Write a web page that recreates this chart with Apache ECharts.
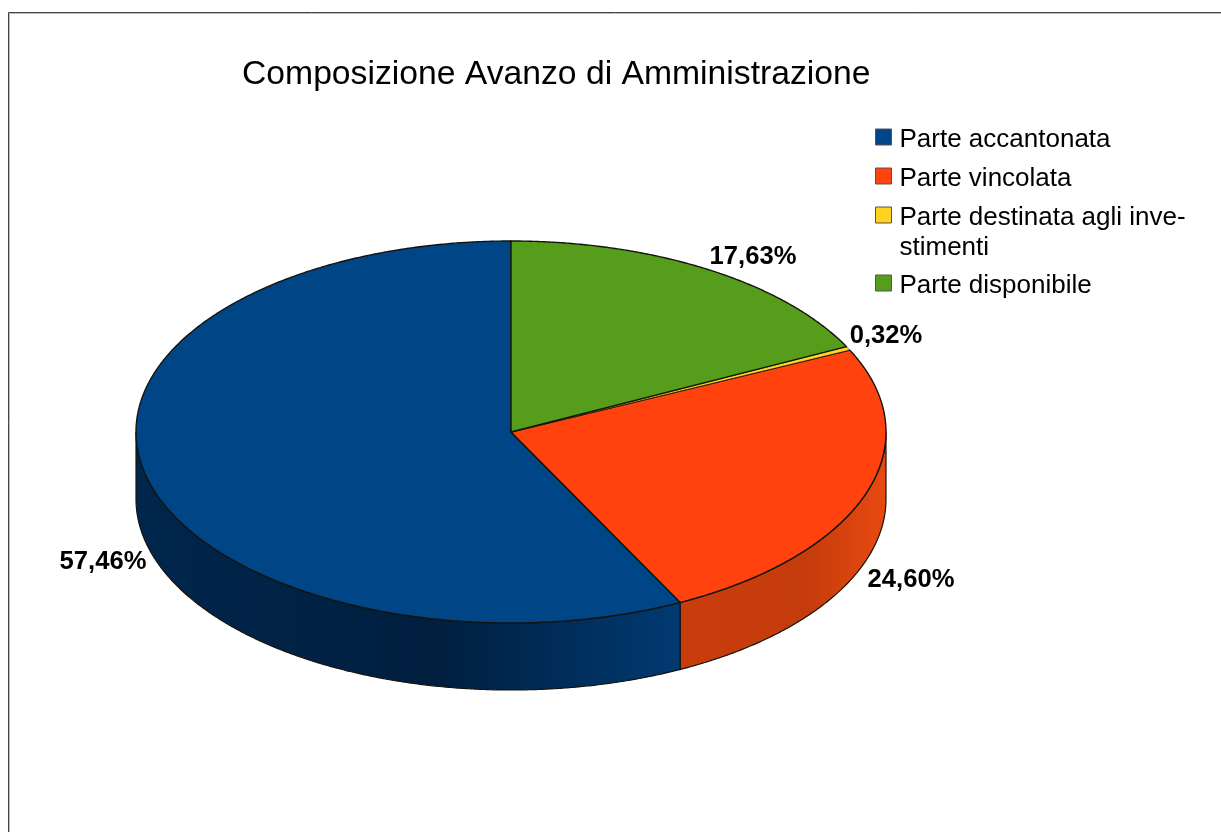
<!DOCTYPE html>
<html>
<head>
<meta charset="utf-8">
<style>html,body{margin:0;padding:0;background:#fff}#c{width:1221px;height:832px}</style>
<script src="https://cdn.jsdelivr.net/npm/echarts@6/dist/echarts.min.js"></script>
</head>
<body>
<div id="c"></div>
<script>
var categories = ['Parte accantonata', 'Parte vincolata', 'Parte destinata agli investimenti', 'Parte disponibile'];
var shares = [57.46, 24.60, 0.32, 17.63];
var shareLabels = ['57,46%', '24,60%', '0,32%', '17,63%'];
var colors = ['#004586', '#ff420e', '#ffd320', '#579d1c'];
var sideStops = [
  [[0, '#00264c'], [0.55, '#001f3f'], [1, '#003a72']],
  [[0, '#c93d0c'], [0.6, '#c43b0c'], [1, '#e84a10']],
  [[0, '#c9a518'], [1, '#c9a518']],
  [[0, '#3f7313'], [1, '#3f7313']]
];
var labelAnchors = [[103, 562], [911, 580], [886, 336], [753, 257]];
var legendCentres = [137, 176, 215, 283];

var FONT = '"Liberation Sans", Arial, sans-serif';
var CX = 511, CY = 432, RX = 375, RY = 191, DEPTH = 67;
var total = shares.reduce(function (a, b) { return a + b; }, 0);
var EDGE = '#14140f';

function pt(t, dy) {
  return [CX + RX * Math.sin(t), CY - RY * Math.cos(t) + (dy || 0)];
}
function arc(a, b, dy) {
  var out = [], n = Math.max(2, Math.ceil(Math.abs(b - a) / 0.006));
  for (var i = 0; i <= n; i++) out.push(pt(a + (b - a) * i / n, dy));
  return out;
}
function renderSlice(index) {
  return function (params, api) {
    var value = api.value(0), after = 0;
    for (var k = index + 1; k < shares.length; k++) after += shares[k];
    var a = after / total * 2 * Math.PI;
    var b = (after + value) / total * 2 * Math.PI;
    var kids = [];
    var lo = Math.max(a, Math.PI / 2), hi = Math.min(b, 3 * Math.PI / 2);
    if (hi > lo) {
      var side = arc(lo, hi, 0).concat(arc(hi, lo, DEPTH));
      kids.push({
        type: 'polygon', z2: 1,
        shape: { points: side },
        style: {
          fill: new echarts.graphic.LinearGradient(0, 0, 1, 0, sideStops[index].map(function (s) {
            return { offset: s[0], color: s[1] };
          })),
          stroke: EDGE, lineWidth: 1.2
        }
      });
    }
    kids.push({
      type: 'polygon', z2: 2,
      shape: { points: [[CX, CY]].concat(arc(a, b, 0)) },
      style: { fill: colors[index], stroke: EDGE, lineWidth: index === 2 ? 0.6 : 1.4, lineJoin: 'round' }
    });
    kids.push({
      type: 'text', z2: 5,
      style: {
        x: labelAnchors[index][0], y: labelAnchors[index][1],
        text: shareLabels[index], fill: '#000',
        font: 'bold 25.6px ' + FONT, align: 'center', verticalAlign: 'middle'
      }
    });
    return { type: 'group', children: kids };
  };
}

var chart = echarts.init(document.getElementById('c'), null, { renderer: 'canvas' });
chart.setOption({
  animation: false,
  backgroundColor: '#ffffff',
  title: {
    text: 'Composizione Avanzo di Amministrazione',
    left: 242, top: 58, padding: 0,
    textStyle: { fontFamily: FONT, fontSize: 33.7, fontWeight: 'normal', color: '#000' }
  },
  legend: categories.map(function (name, i) {
    return {
      data: [name],
      orient: 'vertical',
      left: 875,
      top: legendCentres[i] - (i === 2 ? 42 : 12),
      padding: 0,
      itemWidth: 16, itemHeight: 22,
      selectedMode: false,
      icon: 'path://M0,0H16V16H0Z M0,22h0.01',
      itemStyle: { borderColor: '#555', borderWidth: 1 },
      textStyle: { fontFamily: FONT, fontSize: 26, color: '#000', lineHeight: 30, padding: [0, 0, 0, 3] },
      formatter: i === 2 ? function () { return '\nParte destinata agli inve-\nstimenti'; } : undefined
    };
  }),
  graphic: [
    { type: 'line', silent: true, shape: { x1: 8.5, y1: 12.5, x2: 1221, y2: 12.5 }, style: { stroke: '#444', lineWidth: 1 } },
    { type: 'line', silent: true, shape: { x1: 8.5, y1: 12.5, x2: 8.5, y2: 832 }, style: { stroke: '#444', lineWidth: 1 } },
    { type: 'line', silent: true, shape: { x1: 9.5, y1: 13.5, x2: 1221, y2: 13.5 }, style: { stroke: '#bbb', lineWidth: 1 } },
    { type: 'line', silent: true, shape: { x1: 9.5, y1: 13.5, x2: 9.5, y2: 832 }, style: { stroke: '#bbb', lineWidth: 1 } }
  ],
  series: categories.map(function (name, i) {
    return {
      type: 'custom',
      name: name,
      coordinateSystem: 'none',
      itemStyle: { color: colors[i] },
      silent: true,
      clip: false,
      data: [[shares[i]]],
      renderItem: renderSlice(i)
    };
  })
});
</script>
</body>
</html>
